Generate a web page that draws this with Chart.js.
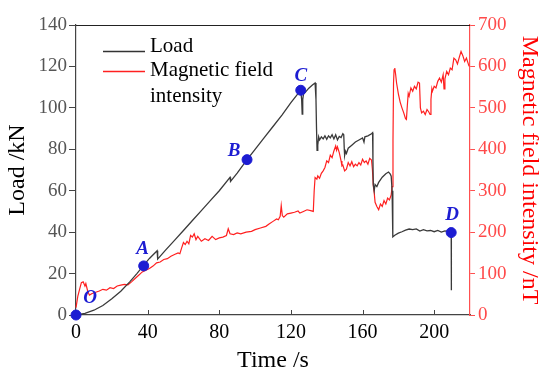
<!DOCTYPE html>
<html lang="en">
<head>
  <meta charset="UTF-8" />
  <title>Load and magnetic field intensity</title>
  <script src="https://cdn.jsdelivr.net/npm/chart.js"></script>
  <style>
    html, body { margin: 0; padding: 0; background: #fff; }
    #wrap { width: 550px; height: 377px; }
  </style>
</head>
<body>
  <div id="wrap"><canvas id="chart" width="550" height="377"></canvas></div>

  <script>
    // Load curve (time in s, load in kN)
    const loadTime = [0, 5, 10, 15, 20, 25, 30, 34, 37.5, 41, 45.3, 45.6, 50, 55, 60, 65, 70, 75, 80, 86, 86.3, 90, 95.5,
      100, 105, 110, 115, 120, 124.5, 125.5, 126, 126.3, 126.6, 127, 128, 130, 132, 133.5, 134, 134.3, 134.6,
      135, 135.5, 136, 137, 138, 139, 140, 141, 142, 143, 144, 145, 146, 147, 148, 149, 149.5, 149.8, 150, 150.5,
      151, 152, 154, 156, 158, 160, 160.8, 161.3, 163, 165, 165.6, 165.8, 166, 166.5, 167, 168, 169, 171, 173,
      174.5, 175.5, 176, 176.5, 176.8, 177, 178, 180, 182, 184, 186, 188, 190, 192, 194, 196, 198, 200, 202,
      204, 206, 208, 209.5, 209.6];
    const loadValue = [0, 0.8, 2.3, 4.6, 7.8, 11.5, 16, 20, 23.7, 27.3, 31, 27, 31.3, 36, 40.8, 45.6, 50.4, 55.2, 60, 66.5, 64.5, 68.5, 75,
      80, 85.5, 91, 96.5, 102.5, 107.5, 108.3, 104, 97, 104, 106.5, 107.5, 109.5, 111, 112, 104, 90, 79.5,
      82, 86, 84.5, 86, 85, 86.5, 84.8, 86.5, 85.5, 87, 85, 87, 84.5, 86.2, 85.7, 87.5, 87, 80, 77, 79,
      78, 80.5, 82, 83.5, 84.5, 85.5, 83.5, 86, 86.5, 87.5, 88, 75, 63, 60, 63, 62, 64, 66.5, 68.2,
      69, 68, 67, 60, 45, 37.7, 38.5, 39.5, 40.2, 41, 41.5, 41.2, 41.6, 40.5, 41.2, 40.6, 40.8, 40.2, 40.8,
      40, 40.6, 40.2, 40, 12];

    // Magnetic field intensity (time in s, intensity in nT)
    const magTime = [0, 1, 2, 3, 4, 5, 5.5, 6.5, 7.5, 9, 11, 13, 15, 17, 19, 21, 23, 25, 27, 29, 31, 33, 35, 37, 39, 41,
      43, 45, 47, 49, 51, 53, 55, 57, 58, 59, 60, 61, 62, 63, 64, 65, 66, 67, 68, 70, 72, 74, 76, 78, 80, 82,
      84, 85, 86, 88, 90, 92, 95, 98, 100, 103, 106, 108, 110, 112, 113, 114, 114.6, 115.2, 116, 118, 120,
      122, 124, 125, 127, 129, 131, 132.5, 133, 133.5, 134.5, 135, 136, 137, 138, 139, 140, 141, 142, 143,
      144, 145, 145.5, 146, 147, 148, 148.5, 149, 150, 151, 152, 153, 154, 155, 156, 157, 158, 159, 160,
      161, 162, 163, 164, 165, 165.5, 166, 166.5, 167, 168, 169, 170, 171, 172, 173, 174, 175, 176, 176.5,
      177, 177.3, 177.6, 178, 178.5, 179, 180, 181, 182, 183, 184, 184.5, 185, 185.5, 186, 187, 188, 189,
      190, 191, 191.8, 192.3, 193, 194, 195, 196, 197, 197.7, 198.2, 198.7, 199, 200, 201, 202, 203, 204,
      205, 205.5, 206, 207, 208, 209, 210, 211, 212, 213, 214, 215, 216, 217, 218, 219.5];
    const magValue = [18, 45, 62, 78, 80, 70, 76, 58, 48, 52, 55, 58, 62, 60, 66, 64, 70, 72, 74, 73, 80, 88, 96, 104, 108, 112,
      118, 126, 128, 134, 136, 142, 146, 150, 148, 162, 175, 170, 178, 172, 192, 188, 196, 182, 190, 178, 184, 180, 190, 182, 186, 188,
      192, 208, 196, 194, 198, 196, 200, 202, 206, 210, 214, 220, 226, 232, 230, 238, 264, 240, 236, 244, 246,
      248, 251, 246, 250, 254, 252, 250, 300, 332, 328, 336, 330, 342, 348, 356, 372, 368, 386, 380,
      396, 408, 398, 406, 392, 372, 360, 362, 348, 352, 368, 360, 370, 358, 364, 360, 368, 362, 376,
      368, 372, 364, 378, 374, 352, 312, 296, 272, 262, 254, 268, 262, 276, 268, 282, 278, 290, 310,
      420, 560, 592, 596, 580, 560, 534, 514, 500, 488, 474, 472, 505, 535, 528, 548, 540, 552,
      546, 562, 560, 500, 488, 492, 484, 496, 490, 484, 520, 546, 540, 552, 548, 564, 572, 562,
      580, 546, 570, 588, 580, 596, 592, 620, 616, 606, 622, 636, 626, 612, 620, 600];

    // Marked states on the load curve
    const markerNames = ['O', 'A', 'B', 'C', 'D'];
    const markerTime = [0, 37.8, 95.5, 125.5, 209.5];
    const markerLoad = [0, 23.7, 75, 108.5, 39.8];

    // Axis ranges / ticks
    const timeTicks = [0, 40, 80, 120, 160, 200];
    const timeMax = 220;
    const loadMax = 140, loadStep = 20;
    const magMax = 700, magStep = 100;

    const serif = '"Liberation Serif", "Times New Roman", serif';
    const blue = '#1c1cd2';
    const labelOffsets = [[14, -17], [-1, -17], [-13, -9], [0, -14], [1, -17]];

    const pairs = (xs, ys) => xs.map((x, i) => ({ x: x, y: ys[i] }));

    const decor = {
      id: 'decor',
      beforeDatasetsDraw(chart) {
        const { ctx, chartArea: a, scales } = chart;
        ctx.save();
        // top frame
        ctx.strokeStyle = '#222';
        ctx.lineWidth = 1.2;
        ctx.beginPath();
        ctx.moveTo(a.left, a.top + 0.5);
        ctx.lineTo(a.right, a.top + 0.5);
        ctx.stroke();
        // inward ticks on time axis
        ctx.strokeStyle = '#444';
        ctx.lineWidth = 1;
        timeTicks.forEach(t => {
          const px = Math.round(scales.x.getPixelForValue(t)) + 0.5;
          ctx.beginPath();
          ctx.moveTo(px, a.bottom);
          ctx.lineTo(px, a.bottom - 5);
          ctx.stroke();
        });
        ctx.restore();
      },
      afterDatasetsDraw(chart) {
        const { ctx, chartArea: a, scales } = chart;
        ctx.save();
        // legend
        const lx = a.left + 27;
        ctx.lineWidth = 1.4;
        ctx.strokeStyle = '#333';
        ctx.beginPath(); ctx.moveTo(lx, 51.5); ctx.lineTo(lx + 42, 51.5); ctx.stroke();
        ctx.strokeStyle = '#ff2020';
        ctx.beginPath(); ctx.moveTo(lx, 71.5); ctx.lineTo(lx + 42, 71.5); ctx.stroke();
        ctx.fillStyle = '#000';
        ctx.font = '21px ' + serif;
        ctx.textBaseline = 'middle';
        ctx.textAlign = 'left';
        ctx.fillText('Load', lx + 47, 46);
        ctx.fillText('Magnetic field', lx + 47, 70);
        ctx.fillText('intensity', lx + 47, 96);
        // marker labels
        ctx.fillStyle = blue;
        ctx.font = 'italic bold 19px ' + serif;
        ctx.textAlign = 'center';
        markerNames.forEach((n, i) => {
          const px = scales.x.getPixelForValue(markerTime[i]);
          const py = scales.y.getPixelForValue(markerLoad[i]);
          ctx.fillText(n, px + labelOffsets[i][0], py + labelOffsets[i][1]);
        });
        ctx.restore();
      }
    };

    new Chart(document.getElementById('chart'), {
      type: 'line',
      data: {
        datasets: [
          {
            label: 'Markers',
            data: pairs(markerTime, markerLoad),
            yAxisID: 'y',
            showLine: false,
            pointRadius: 5,
            pointBackgroundColor: blue,
            pointBorderColor: blue,
            order: 0,
            clip: false
          },
          {
            label: 'Load',
            data: pairs(loadTime, loadValue),
            yAxisID: 'y',
            borderColor: '#3a3a3a',
            borderWidth: 1.3,
            pointRadius: 0,
            tension: 0,
            order: 1,
            clip: false
          },
          {
            label: 'Magnetic field intensity',
            data: pairs(magTime, magValue),
            yAxisID: 'y1',
            borderColor: '#ff2020',
            borderWidth: 1.2,
            pointRadius: 0,
            tension: 0,
            order: 2,
            clip: false
          }
        ]
      },
      options: {
        responsive: false,
        animation: false,
        layout: { padding: { top: 25, left: 0, right: 0, bottom: 0 } },
        plugins: { legend: { display: false }, tooltip: { enabled: false } },
        scales: {
          x: {
            type: 'linear',
            min: 0,
            max: timeMax,
            afterFit(s) { s.height = 62; },
            afterBuildTicks(s) { s.ticks = timeTicks.map(v => ({ value: v })); },
            grid: { display: true, drawOnChartArea: false, drawTicks: false },
            border: { color: '#444', width: 1.2 },
            ticks: { color: '#000', padding: 6, maxRotation: 0, font: { family: serif, size: 20 } },
            title: { display: true, text: 'Time /s', color: '#000', padding: { top: 0, bottom: 2 }, font: { family: serif, size: 24 } }
          },
          y: {
            position: 'left',
            min: 0,
            max: loadMax,
            afterFit(s) { s.width = 76; },
            grid: { drawOnChartArea: false, tickLength: 7, color: '#444' },
            border: { color: '#444', width: 1.2 },
            ticks: { stepSize: loadStep, color: '#555', padding: 2, font: { family: serif, size: 19 } },
            title: { display: true, text: 'Load /kN', color: '#000', padding: { top: 3, bottom: 0 }, font: { family: serif, size: 24 } }
          },
          y1: {
            position: 'right',
            min: 0,
            max: magMax,
            afterFit(s) { s.width = 80; },
            grid: { drawOnChartArea: false, tickLength: 5, color: '#ff5050' },
            border: { color: '#ff5050', width: 1.2 },
            ticks: { stepSize: magStep, color: '#ff4a4a', padding: 3, font: { family: serif, size: 19 } },
            title: { display: true, text: 'Magnetic field intensity /nT', color: '#ff0000', padding: { top: 6, bottom: 0 }, font: { family: serif, size: 24 } }
          }
        }
      },
      plugins: [decor]
    });
  </script>
</body>
</html>
